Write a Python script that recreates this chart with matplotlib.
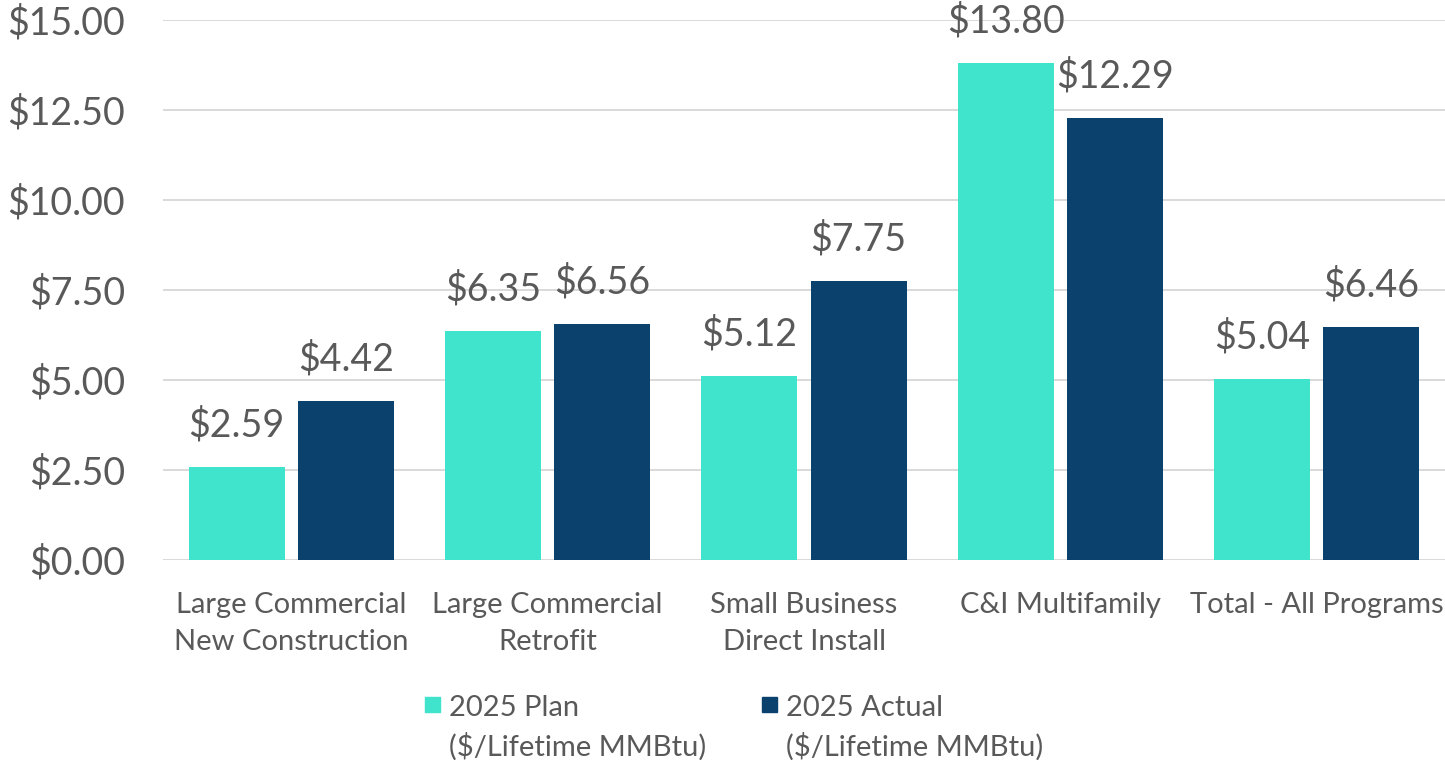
import matplotlib
matplotlib.use("Agg")
import matplotlib.pyplot as plt
from matplotlib.patches import Rectangle
import numpy as np

categories = ["Large Commercial\nNew Construction", "Large Commercial\nRetrofit",
              "Small Business\nDirect Install", "C&I Multifamily", "Total - All Programs"]
plan = [2.59, 6.35, 5.12, 13.80, 5.04]
actual = [4.42, 6.56, 7.75, 12.29, 6.46]
series_names = ["2025 Plan\n($/Lifetime MMBtu)", "2025 Actual\n($/Lifetime MMBtu)"]
y_ticks = [0, 2.5, 5, 7.5, 10, 12.5, 15]

TEAL = "#40E3CB"
NAVY = "#0B426D"
TXT = "#595959"
GRID = "#D9D9D9"

plt.rcParams['font.family'] = ['Lato', 'DejaVu Sans']

W, H = 1445, 760
fig = plt.figure(figsize=(W / 100, H / 100), dpi=100)
ax = fig.add_axes([163 / W, 1 - 560 / H, (W - 163) / W, (560 - 20) / H])

x = np.arange(len(categories))
bw = 0.374
off = 0.213
b1 = ax.bar(x - off, plan, bw, color=TEAL, zorder=3)
b2 = ax.bar(x + off, actual, bw, color=NAVY, zorder=3)

for bars, vals in ((b1, plan), (b2, actual)):
    for rect, v in zip(bars, vals):
        ax.annotate(f"${v:.2f}", (rect.get_x() + rect.get_width() / 2, v),
                    xytext=(0, 22), textcoords="offset points",
                    ha="center", va="baseline", fontsize=27, color=TXT)

ax.set_xlim(-0.5, len(categories) - 0.5)
ax.set_ylim(0, 15)
ax.set_yticks(y_ticks)
ax.set_yticklabels([f"${t:.2f}" for t in y_ticks])
ax.set_xticks(x)
ax.set_xticklabels(categories, fontsize=21, color=TXT, linespacing=1.55)
ax.tick_params(axis="y", length=0, pad=27.5, labelsize=27, labelcolor=TXT)
ax.tick_params(axis="x", length=0, pad=23)
ax.grid(axis="y", color=GRID, linewidth=1.4, zorder=0)
for s in ax.spines.values():
    s.set_visible(False)

# legend drawn manually in figure pixels
colors = [TEAL, NAVY]
mx = [425, 762]
for c, xm, name in zip(colors, mx, series_names):
    fig.patches.append(Rectangle((xm / W, 1 - 712 / H), 15 / W, 15 / H,
                                 transform=fig.transFigure, color=c, figure=fig))
    lines = name.split("\n")
    for i, ln in enumerate(lines):
        fig.text((xm + 24) / W, 1 - (715.5 + 40 * i) / H, ln, ha="left",
                 va="baseline", fontsize=21, color=TXT)

fig.savefig("out.png", dpi=100)
